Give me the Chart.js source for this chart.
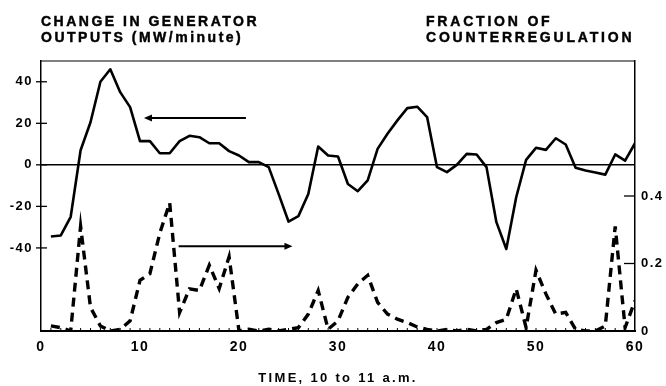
<!DOCTYPE html>
<html><head><meta charset="utf-8">
<script src="https://cdn.jsdelivr.net/npm/chart.js@4/dist/chart.umd.min.js"></script>
<style>
html,body{margin:0;padding:0;background:#fff;}
#wrap{position:relative;width:666px;height:386px;overflow:hidden;}
canvas{position:absolute;left:0;top:0;}
.ttl{position:absolute;font-family:"Liberation Sans",Arial,sans-serif;font-weight:bold;font-size:14px;line-height:15.6px;letter-spacing:2.5px;color:#000;white-space:nowrap;-webkit-text-stroke:0.45px #000;}
</style></head><body>
<div id="wrap">
<canvas id="c" width="666" height="386"></canvas>
<div class="ttl" style="left:41px;top:14px">CHANGE IN GENERATOR<br>OUTPUTS (MW/minute)</div>
<div class="ttl" style="left:426px;top:14px;letter-spacing:2.8px">FRACTION OF<br>COUNTERREGULATION</div>
</div>
<script>
const minutes = [1,2,3,4,5,6,7,8,9,10,11,12,13,14,15,16,17,18,19,20,21,22,23,24,25,26,27,28,29,30,
  31,32,33,34,35,36,37,38,39,40,41,42,43,44,45,46,47,48,49,50,51,52,53,54,55,56,57,58,59,60];
const genChange = [-34.5,-34,-25,7,20.5,40,46,35,27.8,11.4,
  11.4,5.6,5.6,11.4,14,13.3,10.4,10.4,6.6,4.5,
  1.3,1.3,-1.1,-14,-27.3,-24.7,-14,8.8,4.5,4,
  -9.2,-12.7,-7.5,7.7,15,21.4,27.3,28,23,-1.1,
  -3.5,0,5.3,5,-1.1,-27.6,-40.5,-15.6,2.4,8.2,
  7.2,12.8,9.8,-1.4,-2.7,-3.7,-4.7,5,2,10.4];
const counterFrac = [0.015,0.01,0,0.31,0.07,0.015,0,0.005,0.03,0.15,
  0.17,0.29,0.38,0.055,0.125,0.12,0.195,0.126,0.22,0,
  0.005,0,0.005,0,0.005,0.01,0.05,0.12,0.005,0.03,
  0.1,0.14,0.165,0.085,0.05,0.035,0.025,0.012,0.005,0,
  0.005,0,0.005,0,0.005,0.025,0.035,0.125,0.01,0.18,
  0.11,0.05,0.055,0.005,0,0,0.015,0.31,0.01,0.09];
const xTicks = [0,10,20,30,40,50,60];
const xTickLabels = ['0','10','20','30','40','50','60'];
const leftTicks = [40,20,0,-20,-40];
const leftTickLabels = ['40','20','0','-20','-40'];
const rightTicks = [0,0.2,0.4];
const rightTickLabels = ['0','0.2','0.4'];

const FONT = '"Liberation Sans", Arial, sans-serif';

const decor = {
  id: 'decor',
  beforeDraw(chart){ chart.ctx.letterSpacing = '1.5px'; },
  afterDraw(chart){
    const ctx = chart.ctx, a = chart.chartArea;
    const sx = chart.scales.x, sy = chart.scales.y, sy1 = chart.scales.y1;
    ctx.save();
    ctx.strokeStyle = '#000';
    ctx.fillStyle = '#000';
    ctx.lineWidth = 1.2;
    ctx.beginPath(); ctx.moveTo(a.left, a.top); ctx.lineTo(a.right, a.top); ctx.stroke();
    ctx.lineWidth = 1.3;
    leftTicks.forEach(v => { const y = sy.getPixelForValue(v);
      ctx.beginPath(); ctx.moveTo(a.left - 5, y); ctx.lineTo(a.left + 6, y); ctx.stroke(); });
    rightTicks.forEach(v => { if (v === 0) return; const y = sy1.getPixelForValue(v);
      ctx.beginPath(); ctx.moveTo(a.right - 11, y); ctx.lineTo(a.right, y); ctx.stroke(); });
    ctx.lineWidth = 1;
    for (let m = 1; m < 60; m++) { const x = sx.getPixelForValue(m);
      ctx.beginPath(); ctx.moveTo(x, a.bottom); ctx.lineTo(x, a.bottom - 3); ctx.stroke(); }
    const arrows = [
      {x0: 20.7, x1: 10.4, y: 22.6},
      {x0: 13.9, x1: 25.4, y: -39.2}
    ];
    ctx.lineWidth = 2;
    arrows.forEach(ar => {
      const px0 = sx.getPixelForValue(ar.x0), px1 = sx.getPixelForValue(ar.x1), py = sy.getPixelForValue(ar.y);
      const dir = px1 > px0 ? 1 : -1;
      ctx.beginPath(); ctx.moveTo(px0, py); ctx.lineTo(px1 - dir * 6, py); ctx.stroke();
      ctx.beginPath(); ctx.moveTo(px1, py); ctx.lineTo(px1 - dir * 8, py - 3.5); ctx.lineTo(px1 - dir * 8, py + 3.5); ctx.closePath(); ctx.fill();
    });
    ctx.restore();
  }
};

new Chart(document.getElementById('c'), {
  type: 'line',
  data: {
    datasets: [
      { label: 'Change in generator outputs', data: minutes.map((m, i) => ({x: m, y: genChange[i]})),
        yAxisID: 'y', borderColor: '#000', borderWidth: 2.6, pointRadius: 0, tension: 0, fill: false,
        borderJoinStyle: 'round' },
      { label: 'Fraction of counterregulation', data: minutes.map((m, i) => ({x: m, y: counterFrac[i]})),
        yAxisID: 'y1', borderColor: '#000', borderWidth: 3.4, borderDash: [9, 6], borderCapStyle: 'butt',
        pointRadius: 0, tension: 0, fill: false }
    ]
  },
  options: {
    responsive: false, animation: false, devicePixelRatio: 1,
    layout: { padding: { top: 61, left: 0, right: 0, bottom: 0 } },
    plugins: { legend: { display: false }, tooltip: { enabled: false } },
    scales: {
      x: {
        type: 'linear', min: 0, max: 60,
        afterBuildTicks: s => { s.ticks = xTicks.map(v => ({value: v})); },
        afterFit: s => {
          s.height = 55;
          if (!s._ls) { const orig = s.drawTitle; s.drawTitle = function(){ this.ctx.save(); this.ctx.letterSpacing = '2.3px'; orig.apply(this, arguments); this.ctx.restore(); }; s._ls = true; }
        },
        ticks: { color: '#000', padding: 8, maxRotation: 0, autoSkip: false,
          font: { family: FONT, size: 14, weight: 'bold' },
          callback: (v) => { const i = xTicks.indexOf(v); return i >= 0 ? xTickLabels[i] : ''; } },
        grid: { display: false, drawTicks: false },
        border: { display: true, color: '#000', width: 2 },
        title: { display: true, text: 'TIME, 10 to 11 a.m.', color: '#000', padding: { top: 10, bottom: 0 },
          font: { family: FONT, size: 13, weight: 'bold' } }
      },
      y: {
        position: 'left', min: -80, max: 50,
        afterBuildTicks: s => { s.ticks = leftTicks.map(v => ({value: v})); },
        afterFit: s => { s.width = 41; },
        ticks: { color: '#000', padding: 8, autoSkip: false,
          font: { family: FONT, size: 13, weight: 'bold' },
          callback: (v) => { const i = leftTicks.indexOf(v); return i >= 0 ? leftTickLabels[i] : ''; } },
        grid: { drawTicks: false, lineWidth: 1.4,
          color: c => (c.tick && c.tick.value === 0) ? '#000' : 'rgba(0,0,0,0)' },
        border: { display: true, color: '#000', width: 1.5 }
      },
      y1: {
        position: 'right', min: 0, max: 0.8,
        afterBuildTicks: s => { s.ticks = rightTicks.map(v => ({value: v})); },
        afterFit: s => { s.width = 31; },
        ticks: { color: '#000', padding: 6, autoSkip: false,
          font: { family: FONT, size: 13, weight: 'bold' },
          callback: (v) => { const i = rightTicks.indexOf(v); return i >= 0 ? rightTickLabels[i] : ''; } },
        grid: { display: false, drawTicks: false },
        border: { display: true, color: '#000', width: 1.5 }
      }
    }
  },
  plugins: [decor]
});
</script>
</body></html>
